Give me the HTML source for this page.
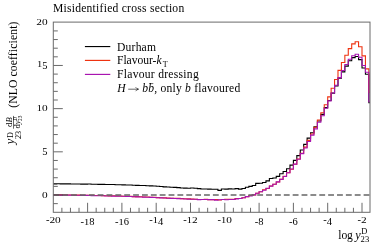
<!DOCTYPE html>
<html><head><meta charset="utf-8"><style>
html,body{margin:0;padding:0;background:#fff}
#c{position:relative;width:382px;height:244px;overflow:hidden;background:#fff;font-family:"Liberation Serif",serif;color:#000}
</style></head><body><div id="c">
<svg width="382" height="244" viewBox="0 0 382 244" style="position:absolute;left:0;top:0;will-change:transform;font-family:'Liberation Serif',serif" fill="#000"><rect width="382" height="244" fill="#fff"/><path d="M53.30,183.84 L56.73,183.84 L56.73,183.81 L60.16,183.81 L60.16,183.87 L63.59,183.87 L63.59,183.86 L67.02,183.86 L67.02,183.89 L70.45,183.89 L70.45,184.02 L73.88,184.02 L73.88,184.07 L77.31,184.07 L77.31,183.94 L80.74,183.94 L80.74,184.08 L84.17,184.08 L84.17,184.11 L87.60,184.11 L87.60,184.02 L91.03,184.02 L91.03,184.19 L94.46,184.19 L94.46,184.20 L97.89,184.20 L97.89,184.34 L101.32,184.34 L101.32,184.38 L104.75,184.38 L104.75,184.55 L108.18,184.55 L108.18,184.53 L111.61,184.53 L111.61,184.56 L115.04,184.56 L115.04,184.70 L118.47,184.70 L118.47,184.73 L121.90,184.73 L121.90,184.83 L125.33,184.83 L125.33,185.06 L128.76,185.06 L128.76,185.04 L132.19,185.04 L132.19,185.18 L135.62,185.18 L135.62,185.35 L139.05,185.35 L139.05,185.51 L142.48,185.51 L142.48,185.46 L145.91,185.46 L145.91,185.70 L149.34,185.70 L149.34,185.88 L152.77,185.88 L152.77,186.07 L156.20,186.07 L156.20,186.32 L159.63,186.32 L159.63,186.50 L163.06,186.50 L163.06,186.83 L166.49,186.83 L166.49,186.97 L169.92,186.97 L169.92,187.26 L173.35,187.26 L173.35,187.37 L176.78,187.37 L176.78,187.58 L180.21,187.58 L180.21,187.93 L183.64,187.93 L183.64,188.12 L187.07,188.12 L187.07,188.31 L190.50,188.31 L190.50,188.07 L193.93,188.07 L193.93,188.30 L197.36,188.30 L197.36,188.65 L200.79,188.65 L200.79,189.02 L204.22,189.02 L204.22,188.97 L207.65,188.97 L207.65,189.17 L211.08,189.17 L211.08,189.31 L214.51,189.31 L214.51,189.23 L217.94,189.23 L217.94,190.34 L221.37,190.34 L221.37,188.95 L224.80,188.95 L224.80,189.11 L228.23,189.11 L228.23,188.90 L231.66,188.90 L231.66,188.94 L235.09,188.94 L235.09,188.63 L238.52,188.63 L238.52,189.10 L241.95,189.10 L241.95,188.56 L245.38,188.56 L245.38,187.22 L248.81,187.22 L248.81,186.34 L252.24,186.34 L252.24,185.46 L255.67,185.46 L255.67,183.37 L259.10,183.37 L259.10,183.20 L262.53,183.20 L262.53,182.50 L265.96,182.50 L265.96,180.92 L269.39,180.92 L269.39,178.56 L272.82,178.56 L272.82,177.94 L276.25,177.94 L276.25,176.41 L279.68,176.41 L279.68,173.77 L283.11,173.77 L283.11,171.48 L286.54,171.48 L286.54,168.79 L289.97,168.79 L289.97,165.10 L293.40,165.10 L293.40,160.39 L296.83,160.39 L296.83,155.62 L300.26,155.62 L300.26,150.02 L303.69,150.02 L303.69,144.42 L307.12,144.42 L307.12,138.14 L310.55,138.14 L310.55,132.69 L313.98,132.69 L313.98,126.83 L317.41,126.83 L317.41,120.94 L320.84,120.94 L320.84,114.37 L324.27,114.37 L324.27,107.64 L327.70,107.64 L327.70,100.47 L331.13,100.47 L331.13,93.09 L334.56,93.09 L334.56,85.97 L337.99,85.97 L337.99,78.28 L341.42,78.28 L341.42,71.88 L344.85,71.88 L344.85,66.14 L348.28,66.14 L348.28,60.73 L351.71,60.73 L351.71,57.65 L355.14,57.65 L355.14,56.48 L358.57,56.48 L358.57,59.60 L362.00,59.60 L362.00,68.00 L365.43,68.00 L365.43,74.26 L368.86,74.26 L368.86,102.81 L370.00,102.81" fill="none" stroke="#000" stroke-width="1.1"/><path d="M53.30,194.79 L56.73,194.79 L56.73,194.92 L60.16,194.92 L60.16,194.86 L63.59,194.86 L63.59,194.91 L67.02,194.91 L67.02,195.04 L70.45,195.04 L70.45,195.07 L73.88,195.07 L73.88,195.10 L77.31,195.10 L77.31,195.13 L80.74,195.13 L80.74,195.18 L84.17,195.18 L84.17,195.23 L87.60,195.23 L87.60,195.28 L91.03,195.28 L91.03,195.31 L94.46,195.31 L94.46,195.47 L97.89,195.47 L97.89,195.57 L101.32,195.57 L101.32,195.61 L104.75,195.61 L104.75,195.78 L108.18,195.78 L108.18,195.85 L111.61,195.85 L111.61,195.82 L115.04,195.82 L115.04,195.99 L118.47,195.99 L118.47,196.07 L121.90,196.07 L121.90,196.27 L125.33,196.27 L125.33,196.32 L128.76,196.32 L128.76,196.42 L132.19,196.42 L132.19,196.64 L135.62,196.64 L135.62,196.66 L139.05,196.66 L139.05,196.78 L142.48,196.78 L142.48,197.00 L145.91,197.00 L145.91,197.05 L149.34,197.05 L149.34,197.23 L152.77,197.23 L152.77,197.36 L156.20,197.36 L156.20,197.58 L159.63,197.58 L159.63,197.68 L163.06,197.68 L163.06,197.84 L166.49,197.84 L166.49,198.12 L169.92,198.12 L169.92,198.28 L173.35,198.28 L173.35,198.32 L176.78,198.32 L176.78,198.41 L180.21,198.41 L180.21,198.67 L183.64,198.67 L183.64,198.77 L187.07,198.77 L187.07,198.89 L190.50,198.89 L190.50,199.17 L193.93,199.17 L193.93,199.27 L197.36,199.27 L197.36,199.45 L200.79,199.45 L200.79,199.49 L204.22,199.49 L204.22,199.42 L207.65,199.42 L207.65,199.71 L211.08,199.71 L211.08,199.75 L214.51,199.75 L214.51,199.56 L217.94,199.56 L217.94,199.96 L221.37,199.96 L221.37,199.46 L224.80,199.46 L224.80,199.22 L228.23,199.22 L228.23,199.40 L231.66,199.40 L231.66,199.34 L235.09,199.34 L235.09,198.52 L238.52,198.52 L238.52,198.50 L241.95,198.50 L241.95,197.82 L245.38,197.82 L245.38,196.64 L248.81,196.64 L248.81,195.45 L252.24,195.45 L252.24,194.89 L255.67,194.89 L255.67,193.22 L259.10,193.22 L259.10,191.69 L262.53,191.69 L262.53,189.82 L265.96,189.82 L265.96,188.57 L269.39,188.57 L269.39,186.06 L272.82,186.06 L272.82,184.31 L276.25,184.31 L276.25,181.97 L279.68,181.97 L279.68,179.21 L283.11,179.21 L283.11,176.27 L286.54,176.27 L286.54,172.78 L289.97,172.78 L289.97,169.21 L293.40,169.21 L293.40,164.22 L296.83,164.22 L296.83,158.93 L300.26,158.93 L300.26,153.26 L303.69,153.26 L303.69,147.15 L307.12,147.15 L307.12,140.35 L310.55,140.35 L310.55,133.99 L313.98,133.99 L313.98,127.31 L317.41,127.31 L317.41,119.93 L320.84,119.93 L320.84,112.79 L324.27,112.79 L324.27,104.78 L327.70,104.78 L327.70,96.90 L331.13,96.90 L331.13,88.30 L334.56,88.30 L334.56,79.46 L337.99,79.46 L337.99,70.38 L341.42,70.38 L341.42,62.50 L344.85,62.50 L344.85,55.21 L348.28,55.21 L348.28,48.59 L351.71,48.59 L351.71,43.89 L355.14,43.89 L355.14,41.70 L358.57,41.70 L358.57,46.75 L362.00,46.75 L362.00,55.89 L365.43,55.89 L365.43,68.90 L368.86,68.90 L368.86,92.22 L370.00,92.22" fill="none" stroke="#ee3311" stroke-width="1.1"/><path d="M53.30,194.97 L56.73,194.97 L56.73,195.00 L60.16,195.00 L60.16,195.12 L63.59,195.12 L63.59,195.09 L67.02,195.09 L67.02,195.14 L70.45,195.14 L70.45,195.27 L73.88,195.27 L73.88,195.25 L77.31,195.25 L77.31,195.28 L80.74,195.28 L80.74,195.35 L84.17,195.35 L84.17,195.41 L87.60,195.41 L87.60,195.50 L91.03,195.50 L91.03,195.58 L94.46,195.58 L94.46,195.68 L97.89,195.68 L97.89,195.79 L101.32,195.79 L101.32,195.81 L104.75,195.81 L104.75,195.93 L108.18,195.93 L108.18,195.95 L111.61,195.95 L111.61,196.14 L115.04,196.14 L115.04,196.11 L118.47,196.11 L118.47,196.23 L121.90,196.23 L121.90,196.30 L125.33,196.30 L125.33,196.43 L128.76,196.43 L128.76,196.55 L132.19,196.55 L132.19,196.72 L135.62,196.72 L135.62,196.91 L139.05,196.91 L139.05,196.94 L142.48,196.94 L142.48,197.14 L145.91,197.14 L145.91,197.27 L149.34,197.27 L149.34,197.38 L152.77,197.38 L152.77,197.56 L156.20,197.56 L156.20,197.74 L159.63,197.74 L159.63,197.83 L163.06,197.83 L163.06,198.04 L166.49,198.04 L166.49,198.23 L169.92,198.23 L169.92,198.41 L173.35,198.41 L173.35,198.48 L176.78,198.48 L176.78,198.66 L180.21,198.66 L180.21,198.76 L183.64,198.76 L183.64,198.96 L187.07,198.96 L187.07,199.12 L190.50,199.12 L190.50,199.20 L193.93,199.20 L193.93,199.19 L197.36,199.19 L197.36,199.66 L200.79,199.66 L200.79,199.43 L204.22,199.43 L204.22,199.44 L207.65,199.44 L207.65,199.59 L211.08,199.59 L211.08,199.67 L214.51,199.67 L214.51,200.18 L217.94,200.18 L217.94,199.73 L221.37,199.73 L221.37,199.49 L224.80,199.49 L224.80,199.79 L228.23,199.79 L228.23,199.56 L231.66,199.56 L231.66,199.44 L235.09,199.44 L235.09,198.89 L238.52,198.89 L238.52,198.53 L241.95,198.53 L241.95,197.79 L245.38,197.79 L245.38,196.62 L248.81,196.62 L248.81,196.02 L252.24,196.02 L252.24,194.85 L255.67,194.85 L255.67,193.29 L259.10,193.29 L259.10,191.77 L262.53,191.77 L262.53,190.27 L265.96,190.27 L265.96,188.28 L269.39,188.28 L269.39,186.12 L272.82,186.12 L272.82,184.30 L276.25,184.30 L276.25,181.86 L279.68,181.86 L279.68,179.41 L283.11,179.41 L283.11,176.49 L286.54,176.49 L286.54,172.81 L289.97,172.81 L289.97,169.05 L293.40,169.05 L293.40,164.10 L296.83,164.10 L296.83,159.20 L300.26,159.20 L300.26,153.64 L303.69,153.64 L303.69,147.99 L307.12,147.99 L307.12,141.57 L310.55,141.57 L310.55,135.15 L313.98,135.15 L313.98,128.87 L317.41,128.87 L317.41,122.28 L320.84,122.28 L320.84,115.68 L324.27,115.68 L324.27,108.31 L327.70,108.31 L327.70,100.91 L331.13,100.91 L331.13,93.06 L334.56,93.06 L334.56,85.23 L337.99,85.23 L337.99,77.59 L341.42,77.59 L341.42,70.55 L344.85,70.55 L344.85,64.56 L348.28,64.56 L348.28,59.26 L351.71,59.26 L351.71,55.74 L355.14,55.74 L355.14,54.32 L358.57,54.32 L358.57,57.19 L362.00,57.19 L362.00,65.48 L365.43,65.48 L365.43,72.31 L368.86,72.31 L368.86,101.74 L370.00,101.74" fill="none" stroke="#a814b0" stroke-width="1.1"/><line x1="53.3" y1="195.0" x2="370.0" y2="195.0" stroke="#666" stroke-width="1.35" stroke-dasharray="5.85,3.016" stroke-dashoffset="0"/><path d="M61.88,212.3v-4.5 M70.45,212.3v-4.5 M79.02,212.3v-4.5 M87.60,212.3v-9.5 M96.17,212.3v-4.5 M104.75,212.3v-4.5 M113.32,212.3v-4.5 M121.90,212.3v-9.5 M130.47,212.3v-4.5 M139.05,212.3v-4.5 M147.62,212.3v-4.5 M156.20,212.3v-9.5 M164.77,212.3v-4.5 M173.35,212.3v-4.5 M181.93,212.3v-4.5 M190.50,212.3v-9.5 M199.07,212.3v-4.5 M207.65,212.3v-4.5 M216.22,212.3v-4.5 M224.80,212.3v-9.5 M233.38,212.3v-4.5 M241.95,212.3v-4.5 M250.52,212.3v-4.5 M259.10,212.3v-9.5 M267.67,212.3v-4.5 M276.25,212.3v-4.5 M284.82,212.3v-4.5 M293.40,212.3v-9.5 M301.97,212.3v-4.5 M310.55,212.3v-4.5 M319.12,212.3v-4.5 M327.70,212.3v-9.5 M336.27,212.3v-4.5 M344.85,212.3v-4.5 M353.43,212.3v-4.5 M362.00,212.3v-9.5 M53.3,203.64h4.5 M53.3,195.00h9.5 M53.3,186.36h4.5 M53.3,177.73h4.5 M53.3,169.09h4.5 M53.3,160.46h4.5 M53.3,151.82h9.5 M53.3,143.18h4.5 M53.3,134.55h4.5 M53.3,125.91h4.5 M53.3,117.28h4.5 M53.3,108.64h9.5 M53.3,100.00h4.5 M53.3,91.37h4.5 M53.3,82.73h4.5 M53.3,74.10h4.5 M53.3,65.46h9.5 M53.3,56.82h4.5 M53.3,48.19h4.5 M53.3,39.55h4.5 M53.3,30.92h4.5" stroke="#444" stroke-width="0.8" fill="none"/><rect x="53.3" y="22.1" width="316.7" height="190.20000000000002" fill="none" stroke="#6a6a6a" stroke-width="1"/><line x1="84.9" y1="46.55" x2="110.3" y2="46.55" stroke="#000" stroke-width="1.15"/><line x1="84.9" y1="60.4" x2="110.3" y2="60.4" stroke="#ee3311" stroke-width="1.15"/><line x1="84.9" y1="74.4" x2="110.3" y2="74.4" stroke="#a814b0" stroke-width="1.15"/><text x="45.88" y="223.40" font-size="10.5">-</text><text transform="translate(49.38,223.40) scale(1.08,0.714)" font-size="10.5">2</text><text transform="translate(55.05,223.40) scale(1.08,0.714)" font-size="10.5">0</text><text x="80.60" y="225.40" font-size="10.5">-</text><text transform="translate(84.10,225.40) scale(1,0.714)" font-size="10.5">1</text><text x="89.35" y="225.40" font-size="10.5">8</text><text x="114.90" y="225.40" font-size="10.5">-</text><text transform="translate(118.40,225.40) scale(1,0.714)" font-size="10.5">1</text><text x="123.65" y="225.40" font-size="10.5">6</text><text x="149.20" y="223.40" font-size="10.5">-</text><text transform="translate(152.70,223.40) scale(1,0.714)" font-size="10.5">1</text><text x="157.95" y="225.40" font-size="10.5">4</text><text x="183.29" y="223.40" font-size="10.5">-</text><text transform="translate(186.79,223.40) scale(1,0.714)" font-size="10.5">1</text><text transform="translate(192.04,223.40) scale(1.08,0.714)" font-size="10.5">2</text><text x="217.59" y="223.40" font-size="10.5">-</text><text transform="translate(221.09,223.40) scale(1,0.714)" font-size="10.5">1</text><text transform="translate(226.34,223.40) scale(1.08,0.714)" font-size="10.5">0</text><text x="254.73" y="225.40" font-size="10.5">-</text><text x="258.22" y="225.40" font-size="10.5">8</text><text x="289.03" y="225.40" font-size="10.5">-</text><text x="292.52" y="225.40" font-size="10.5">6</text><text x="323.33" y="223.40" font-size="10.5">-</text><text x="326.82" y="225.40" font-size="10.5">4</text><text x="357.42" y="223.40" font-size="10.5">-</text><text transform="translate(360.91,223.40) scale(1.08,0.714)" font-size="10.5">2</text><text transform="translate(41.93,197.50) scale(1.08,0.714)" font-size="10.5">0</text><text x="42.35" y="155.32" font-size="10.5">5</text><text transform="translate(36.68,111.14) scale(1,0.714)" font-size="10.5">1</text><text transform="translate(41.93,111.14) scale(1.08,0.714)" font-size="10.5">0</text><text transform="translate(37.10,66.96) scale(1,0.714)" font-size="10.5">1</text><text x="42.35" y="68.96" font-size="10.5">5</text><text transform="translate(36.26,24.78) scale(1.08,0.714)" font-size="10.5">2</text><text transform="translate(41.93,24.78) scale(1.08,0.714)" font-size="10.5">0</text><text x="52.9" y="12.2" font-size="11.6" textLength="131.3" lengthAdjust="spacing" >Misidentified cross section</text><text x="117.0" y="50.5" font-size="11.6" textLength="39" lengthAdjust="spacing" >Durham</text><text x="117.0" y="64.4" font-size="11.6" textLength="44.6" lengthAdjust="spacing" >Flavour-<tspan font-style="italic">k</tspan></text><text x="162.7" y="66.6" font-size="8">T</text><text x="117.0" y="78.3" font-size="11.6" textLength="81.7" lengthAdjust="spacing" >Flavour dressing</text><text x="117.2" y="92.1" font-size="11.6" font-style="italic">H</text><path d="M128.2,89.2H138.2M135.6,87.2Q136.6,88.8 138.6,89.2Q136.6,89.6 135.6,91.2" fill="none" stroke="#000" stroke-width="0.6"/><text x="142.3" y="92.1" font-size="11.6" textLength="97.9" lengthAdjust="spacing" ><tspan font-style="italic">bb</tspan>, only <tspan font-style="italic">b</tspan> flavoured</text><line x1="149.3" y1="83.6" x2="153.3" y2="83.6" stroke="#000" stroke-width="0.6"/><text x="338.3" y="238.8" font-size="11.6" textLength="14.6" lengthAdjust="spacing" >log</text><text x="355.2" y="238.8" font-size="12.2" font-style="italic">y</text><text x="361.3" y="234.3" font-size="8.4">D</text><text x="360.6" y="242.2" font-size="8.6">23</text><g transform="translate(17.2,148.5) rotate(-90)"><text x="4.2" y="-3.6" font-size="12.5" font-style="italic">y</text><text x="10.6" y="-4.4" font-size="8.2">D</text><text x="9.4" y="3.4" font-size="8.4">23</text><text x="21.6" y="-5.2" font-size="8.6">d<tspan font-style="italic">B</tspan></text><line x1="19.8" y1="-3.7" x2="32.6" y2="-3.7" stroke="#000" stroke-width="0.6"/><text x="20" y="2.9" font-size="8.6">d<tspan font-style="italic">y</tspan></text><text x="28" y="-0.3" font-size="5.2">D</text><text x="27.6" y="4.8" font-size="5.2">23</text><text x="40.7" y="0" font-size="11.6" textLength="86.2" lengthAdjust="spacing" >(NLO coefficient)</text></g></svg>
</div></body></html>
